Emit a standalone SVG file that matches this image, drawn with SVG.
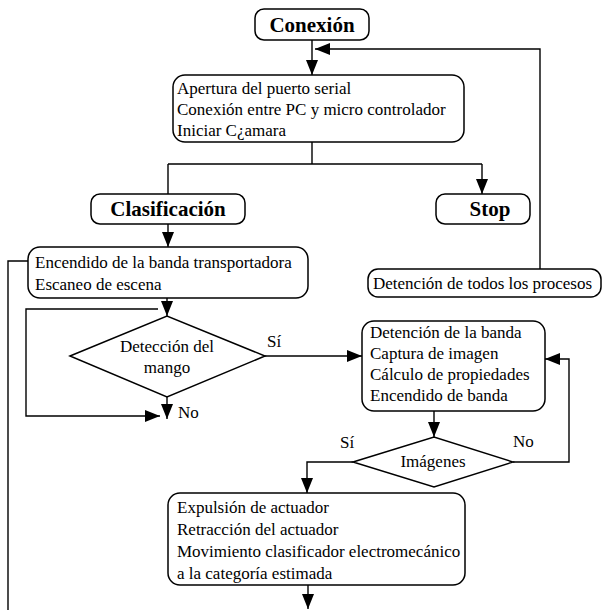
<svg xmlns="http://www.w3.org/2000/svg" width="603" height="610" viewBox="0 0 603 610" font-family="'Liberation Serif', 'DejaVu Serif', serif">
<style>
.box{fill:#fff;stroke:#000;stroke-width:1.5}
.ln{fill:none;stroke:#000;stroke-width:1.4}
text{font-family:'Liberation Serif','DejaVu Serif',serif;fill:#000}
.t{font-size:17px}
.b{font-size:21px;font-weight:bold;text-anchor:middle}
.c{text-anchor:middle}
</style>
<defs>
<marker id="ar" markerUnits="userSpaceOnUse" markerWidth="16" markerHeight="12" refX="15" refY="6" orient="auto">
<path d="M0,0 L15,6 L0,12 Z" fill="#000"/>
</marker>
</defs>
<rect width="603" height="610" fill="#fff"/>
<g id="connectors">
<path class="ln" d="M312,40 V75" marker-end="url(#ar)"/>
<path class="ln" d="M540,269 V49 H315" marker-end="url(#ar)"/>
<path class="ln" d="M312,142 V164 M168,164 H482 M168,164 V194"/>
<path class="ln" d="M482,164 V194" marker-end="url(#ar)"/>
<path class="ln" d="M168,224 V247" marker-end="url(#ar)"/>
<path class="ln" d="M28,261 H8 V610"/>
<path class="ln" d="M167,298 V316" marker-end="url(#ar)"/>
<path class="ln" d="M158,309 H26 V416 H160" marker-end="url(#ar)"/>
<path class="ln" d="M167,397 V419" marker-end="url(#ar)"/>
<path class="ln" d="M265,356 H362" marker-end="url(#ar)"/>
<path class="ln" d="M434,411 V437" marker-end="url(#ar)"/>
<path class="ln" d="M513,462 H569 V359 H545" marker-end="url(#ar)"/>
<path class="ln" d="M353,462 H307 V493" marker-end="url(#ar)"/>
<path class="ln" d="M308,585 V609" marker-end="url(#ar)"/>
</g>
<g id="conexion">
<rect class="box" x="255" y="9" width="114" height="31" rx="9"/>
<text class="b" x="312" y="32">Conexión</text>
</g>
<g id="apertura">
<rect class="box" x="173" y="75" width="291" height="67" rx="12"/>
<text class="t" x="177" y="94">Apertura del puerto serial</text>
<text class="t" x="177" y="115">Conexión entre PC y micro controlador</text>
<text class="t" x="177" y="136">Iniciar C¿amara</text>
</g>
<g id="clasificacion">
<rect class="box" x="91" y="194" width="154" height="30" rx="9"/>
<text class="b" x="168" y="216">Clasificación</text>
</g>
<g id="stop">
<rect class="box" x="436" y="194" width="94" height="30" rx="9"/>
<text class="b" x="490" y="216">Stop</text>
</g>
<g id="encendido">
<rect class="box" x="28" y="247" width="280" height="51" rx="12"/>
<text class="t" x="35" y="268">Encendido de la banda transportadora</text>
<text class="t" x="35" y="290">Escaneo de escena</text>
</g>
<g id="detencion-todos">
<rect class="box" x="368" y="269" width="233" height="28" rx="10"/>
<text class="t" x="373" y="289">Detención de todos los procesos</text>
</g>
<g id="deteccion">
<polygon class="box" points="70,356 167,316 265,356 167,397"/>
<text class="t c" x="167" y="352">Detección del</text>
<text class="t c" x="167" y="373">mango</text>
<text class="t" x="267" y="347">Sí</text>
<text class="t" x="178" y="418">No</text>
</g>
<g id="detencion-banda">
<rect class="box" x="362" y="321" width="183" height="90" rx="12"/>
<text class="t" x="370" y="338">Detención de la banda</text>
<text class="t" x="370" y="359">Captura de imagen</text>
<text class="t" x="370" y="380">Cálculo de propiedades</text>
<text class="t" x="370" y="401">Encendido de banda</text>
</g>
<g id="imagenes">
<polygon class="box" points="353,462 434,437 513,462 434,487"/>
<text class="t c" x="433" y="467">Imágenes</text>
<text class="t" x="340" y="448">Sí</text>
<text class="t" x="513" y="447">No</text>
</g>
<g id="expulsion">
<rect class="box" x="168" y="493" width="297" height="92" rx="12"/>
<text class="t" x="177" y="513">Expulsión de actuador</text>
<text class="t" x="177" y="535">Retracción del actuador</text>
<text class="t" x="177" y="557">Movimiento clasificador electromecánico</text>
<text class="t" x="177" y="579">a la categoría estimada</text>
</g>
</svg>
